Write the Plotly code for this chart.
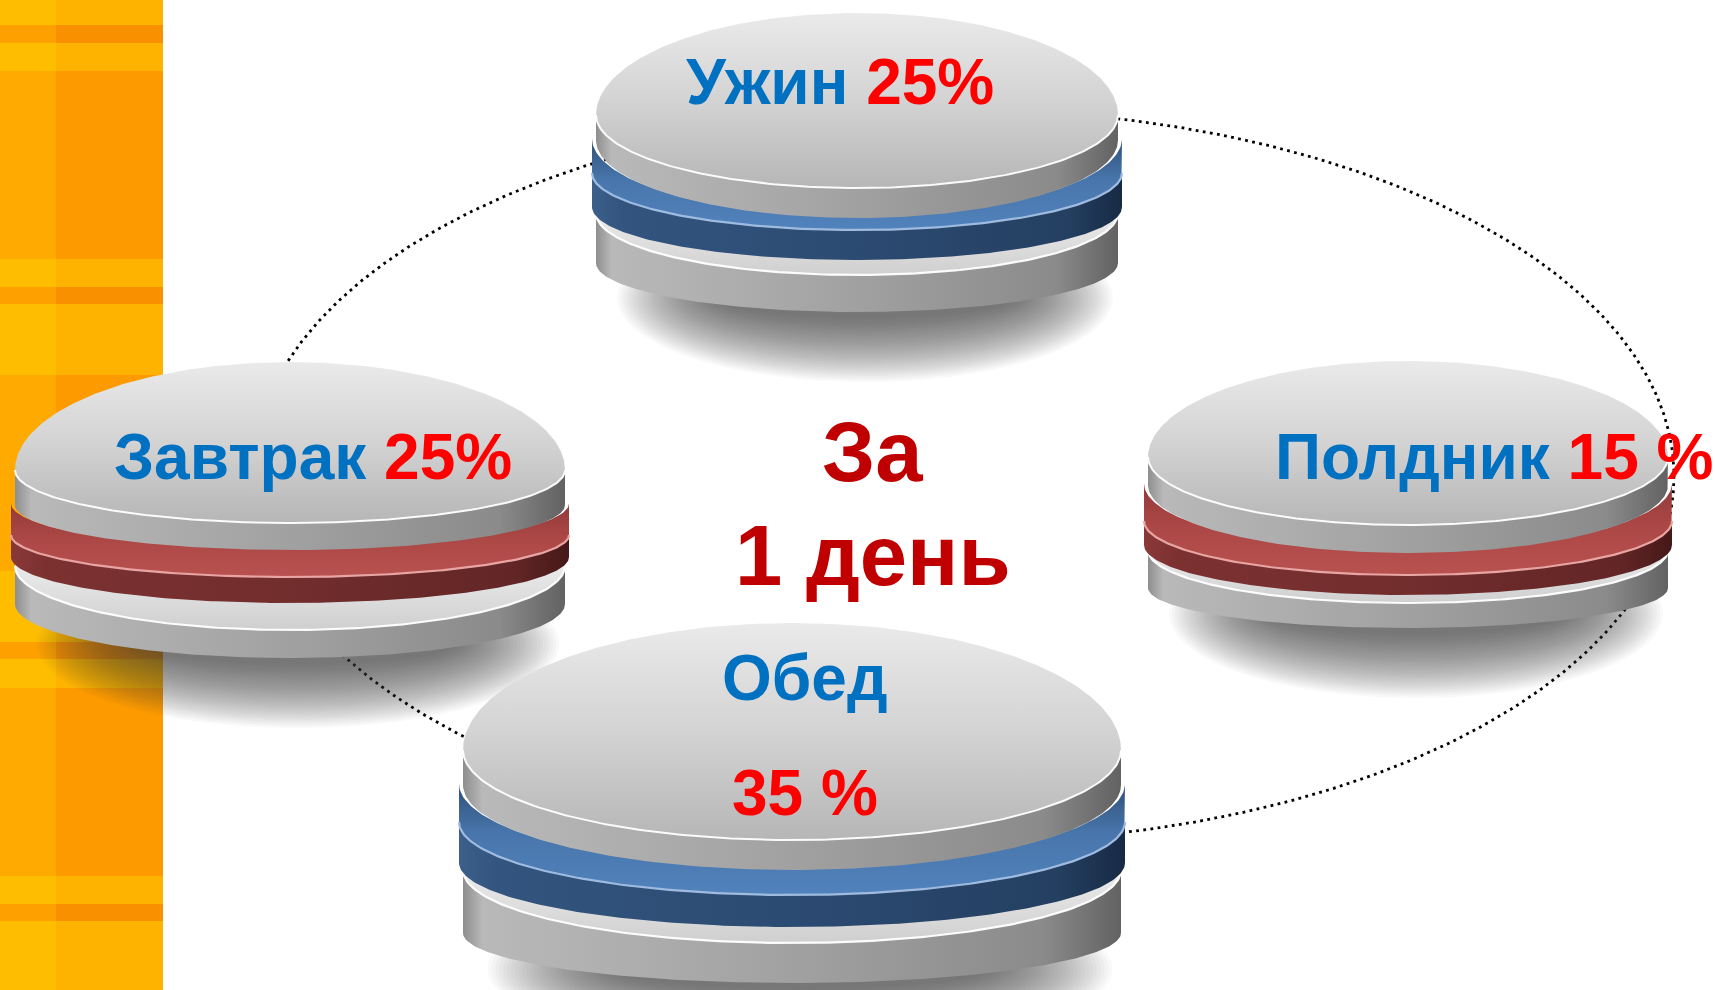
import numpy as np
import plotly.graph_objects as go

W, H = 1715, 990

# ---------------- data ----------------
meals = ["Завтрак", "Обед", "Полдник", "Ужин"]
shares = [25, 35, 15, 25]
centre_lines = ["За", "1 день"]

# ---------------- layout / style (positions, sizes, colours) ----------------
# each disc: centre x, half-width, y of the back of the top face, and band
# boundaries given as (y at the side edges, y at the front centre)
disc_geom = {
    "Ужин":    dict(cx=857, rx=261, top=13,
                    b=[(115, 188), (140, 218), (173, 230), (207, 260), (213, 275), (263, 312)]),
    "Завтрак": dict(cx=290, rx=275, top=362,
                    b=[(470, 523), (505, 550), (535, 577), (557, 603), (566, 630), (604, 658)]),
    "Полдник": dict(cx=1408, rx=260, top=361,
                    b=[(457, 525), (485, 553), (521, 575), (545, 595), (550, 603), (588, 628)]),
    "Обед":    dict(cx=792, rx=329, top=623,
                    b=[(750, 840), (785, 870), (822, 895), (863, 927), (870, 943), (933, 983)]),
}
draw_order = ["Ужин", "Завтрак", "Полдник", "Обед"]
disc_palette = {"Завтрак": "red", "Обед": "blue", "Полдник": "red", "Ужин": "blue"}

label_layout = {
    "Ужин":    dict(x=840, y=82, sep="", two_lines=False),
    "Завтрак": dict(x=313, y=457, sep="", two_lines=False),
    "Полдник": dict(x=1494, y=457, sep=" ", two_lines=False),
    "Обед":    dict(x=805, y=678, y2=793, sep=" ", two_lines=True),
}
centre_pos = [(872, 451), (873, 555)]

NAME_COLOR = "#0070C0"
PCT_COLOR = "#FF0000"
CENTRE_COLOR = "#C00000"
FONT = "Liberation Sans, Arial, sans-serif"
LABEL_SIZE = 64
CENTRE_SIZE = 85

palettes = {
    "blue": dict(
        face=[[0, "#5282BC"], [0.55, "#4876AC"], [1, "#2F4F78"]],
        side=[[0, "#3C5F8B"], [0.06, "#32547E"], [0.5, "#2C4B72"], [0.9, "#243F61"], [1, "#172A44"]],
        hl="#9FBBE0"),
    "red": dict(
        face=[[0, "#B85250"], [0.55, "#AB4745"], [1, "#91393A"]],
        side=[[0, "#8A3838"], [0.06, "#7C3131"], [0.5, "#722D2D"], [0.9, "#632626"], [1, "#461818"]],
        hl="#E8A5A3"),
}
GREY_SIDE = [[0, "#8E8E8E"], [0.03, "#B9B9B9"], [0.5, "#A1A1A1"], [0.88, "#8B8B8B"], [1, "#626262"]]
GREY_FACE = [[0, "#B6B6B6"], [0.5, "#D3D3D3"], [1, "#EAEAEA"]]
LOW_FACE = [[0, "#CFCFCF"], [1, "#EFEFEF"]]

stripe_w, stripe_split = 163, 56
stripe_bands = [(0, 25, "Y"), (25, 43, "D"), (43, 71, "Y"), (71, 259, "O"), (259, 287, "Y"),
                (287, 304, "D"), (304, 375, "Y"), (375, 571, "O"), (571, 642, "Y"), (642, 659, "D"),
                (659, 688, "Y"), (688, 876, "O"), (876, 904, "Y"), (904, 921, "D"), (921, 990, "Y")]
stripe_cols = {"Y": ("#FFBD00", "#FDB300"), "O": ("#FFAA00", "#FC9A00"), "D": ("#FDA000", "#F89000")}

ring = dict(cx=963, cy=476, rx=711, ry=366)

# ---------------- helpers ----------------
def front_curve(cx, rx, ye, yf, n=160):
    th = np.linspace(np.pi, 0, n)
    return cx + rx * np.cos(th), ye + (yf - ye) * np.sin(th)


def band_xy(cx, rx, up, lo, overlap=1.5):
    xu, yu = front_curve(cx, rx, up[0] - overlap, up[1] - overlap)
    xl, yl = front_curve(cx, rx, lo[0], lo[1])
    x = np.concatenate([xu, xl[::-1], xu[:1]])
    y = np.concatenate([yu, yl[::-1], yu[:1]])
    return x, y


def face_xy(cx, rx, top, ye, yf, n=200):
    th = np.linspace(0, np.pi, n)
    xb, yb = cx + rx * np.cos(th), ye - (ye - top) * np.sin(th)
    th2 = np.linspace(np.pi, 2 * np.pi, n)
    xf, yf_ = cx + rx * np.cos(th2), ye - (yf - ye) * np.sin(th2)
    return np.concatenate([xb, xf, xb[:1]]), np.concatenate([yb, yf_, yb[:1]])


def poly(x, y, color=None, grad=None, gtype="horizontal"):
    kw = dict(x=x, y=y, mode="lines", line=dict(width=0, color="rgba(0,0,0,0)"),
              fill="toself", hoverinfo="skip", showlegend=False)
    if grad is not None:
        kw["fillcolor"] = grad[len(grad) // 2][1]
        kw["fillgradient"] = dict(type=gtype, colorscale=grad)
    else:
        kw["fillcolor"] = color
    return go.Scatter(**kw)


def line(x, y, color, width):
    return go.Scatter(x=x, y=y, mode="lines", line=dict(color=color, width=width),
                      hoverinfo="skip", showlegend=False)


fig = go.Figure()

# dotted ring
t = np.linspace(0, 2 * np.pi, 720)
fig.add_trace(go.Scatter(x=ring["cx"] + ring["rx"] * np.cos(t), y=ring["cy"] + ring["ry"] * np.sin(t),
                         mode="lines", line=dict(color="#000000", width=2.8, dash="2.8px,4.4px"),
                         hoverinfo="skip", showlegend=False))

for name in draw_order:
    g = disc_geom[name]
    cx, rx, top, b = g["cx"], g["rx"], g["top"], g["b"]
    pal = palettes[disc_palette[name]]

    # soft shadow below (many faint layers -> smooth falloff)
    n_sh = 34
    scy = b[5][1] - 14
    for k in range(n_sh):
        f = 1 - k / n_sh
        srx = rx * (0.55 + 0.40 * f)
        sry = 18 + 66 * f
        fig.add_trace(poly(cx + 8 + srx * np.cos(t), scy + sry * np.sin(t),
                           color="rgba(60,60,60,0.032)"))

    # bottom slab side
    x, y = band_xy(cx, rx, b[4], b[5])
    fig.add_trace(poly(x, y, grad=GREY_SIDE))
    # bottom slab face (visible strip)
    x, y = band_xy(cx, rx, b[3], b[4])
    fig.add_trace(poly(x, y, grad=LOW_FACE, gtype="vertical"))
    xx, yy = front_curve(cx, rx, *b[4])
    fig.add_trace(line(xx, yy, "rgba(255,255,255,0.95)", 2.2))
    # coloured side
    x, y = band_xy(cx, rx + 4, b[2], b[3])
    fig.add_trace(poly(x, y, grad=pal["side"]))
    # coloured face strip
    x, y = band_xy(cx, rx + 4, b[1], b[2])
    fig.add_trace(poly(x, y, grad=pal["face"], gtype="vertical"))
    xx, yy = front_curve(cx, rx + 4, *b[2])
    fig.add_trace(line(xx, yy, pal["hl"], 2.2))
    # top slab side
    x, y = band_xy(cx, rx, b[0], b[1])
    fig.add_trace(poly(x, y, grad=GREY_SIDE))
    # top face
    x, y = face_xy(cx, rx, top, b[0][0], b[0][1])
    fig.add_trace(poly(x, y, grad=GREY_FACE, gtype="vertical"))
    xx, yy = front_curve(cx, rx, *b[0])
    fig.add_trace(line(xx, yy, "rgba(255,255,255,0.95)", 2.0))

# orange stripe (behind everything)
shapes = []
for y0, y1, kind in stripe_bands:
    cl, cr = stripe_cols[kind]
    shapes.append(dict(type="rect", xref="x", yref="y", x0=0, x1=stripe_split, y0=y0, y1=y1,
                       fillcolor=cl, line=dict(width=0), layer="below"))
    shapes.append(dict(type="rect", xref="x", yref="y", x0=stripe_split, x1=stripe_w, y0=y0, y1=y1,
                       fillcolor=cr, line=dict(width=0), layer="below"))

# labels
annotations = []
for meal, share in zip(meals, shares):
    L = label_layout[meal]
    pct = f"{share}{L['sep']}%"
    if L["two_lines"]:
        annotations.append(dict(x=L["x"], y=L["y"], xref="x", yref="y", showarrow=False,
                                text=f"<b>{meal}</b>",
                                font=dict(family=FONT, size=LABEL_SIZE, color=NAME_COLOR)))
        annotations.append(dict(x=L["x"], y=L["y2"], xref="x", yref="y", showarrow=False,
                                text=f"<b>{pct}</b>",
                                font=dict(family=FONT, size=LABEL_SIZE, color=PCT_COLOR)))
    else:
        annotations.append(dict(
            x=L["x"], y=L["y"], xref="x", yref="y", showarrow=False,
            text=f"<b><span style='color:{NAME_COLOR}'>{meal}</span> "
                 f"<span style='color:{PCT_COLOR}'>{pct}</span></b>",
            font=dict(family=FONT, size=LABEL_SIZE, color=NAME_COLOR)))

for txt, (px, py) in zip(centre_lines, centre_pos):
    annotations.append(dict(x=px, y=py, xref="x", yref="y", showarrow=False,
                            text=f"<b>{txt}</b>",
                            font=dict(family=FONT, size=CENTRE_SIZE, color=CENTRE_COLOR)))

fig.update_layout(
    width=W, height=H, margin=dict(l=0, r=0, t=0, b=0),
    paper_bgcolor="white", plot_bgcolor="white",
    xaxis=dict(range=[0, W], visible=False, fixedrange=True),
    yaxis=dict(range=[H, 0], visible=False, fixedrange=True),
    shapes=shapes, annotations=annotations, showlegend=False,
)

fig.write_html("out.html", config={"displayModeBar": False})
